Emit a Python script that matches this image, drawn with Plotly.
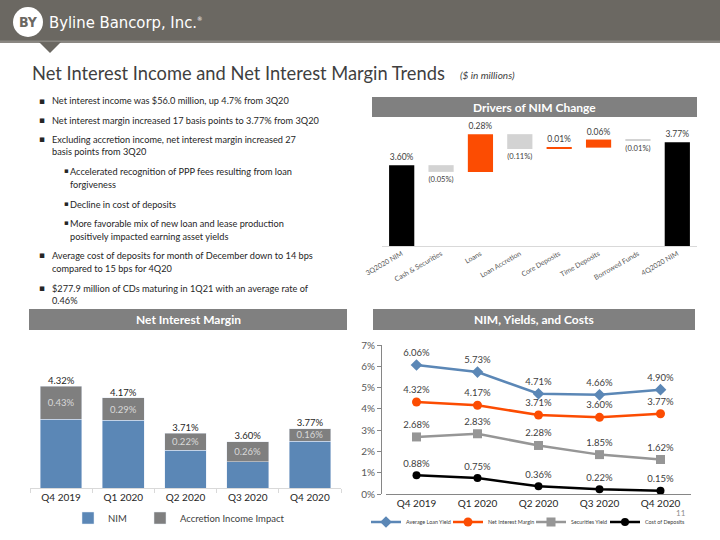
import plotly.graph_objects as go

W, H = 720, 540
def px(x): return x / W
def py(y): return 1 - y / H

FONT = "Lato, Open Sans, sans-serif"

# ---------------- data ----------------
wf_categories = ["3Q2020 NIM", "Cash & Securities", "Loans", "Loan Accretion",
                 "Core Deposits", "Time Deposits", "Borrowed Funds", "4Q2020 NIM"]
wf_values = [3.60, -0.05, 0.28, -0.11, 0.01, 0.06, -0.01, 3.77]
wf_measures = ["absolute", "relative", "relative", "relative",
               "relative", "relative", "relative", "absolute"]
wf_labels = ["3.60%", "(0.05%)", "0.28%", "(0.11%)", "0.01%", "0.06%", "(0.01%)", "3.77%"]

quarters = ["Q4 2019", "Q1 2020", "Q2 2020", "Q3 2020", "Q4 2020"]
nim_total = [4.32, 4.17, 3.71, 3.60, 3.77]
accretion_impact = [0.43, 0.29, 0.22, 0.26, 0.16]
nim_core = [round(t - a, 2) for t, a in zip(nim_total, accretion_impact)]

loan_yield = [6.06, 5.73, 4.71, 4.66, 4.90]
net_interest_margin = [4.32, 4.17, 3.71, 3.60, 3.77]
securities_yield = [2.68, 2.83, 2.28, 1.85, 1.62]
cost_of_deposits = [0.88, 0.75, 0.36, 0.22, 0.15]

bullets = [
    (0, "Net interest income was $56.0 million, up 4.7% from 3Q20", 100.7),
    (0, "Net interest margin increased 17 basis points to 3.77% from 3Q20", 120),
    (0, "Excluding accretion income, net interest margin increased 27", 139.3),
    (-1, "basis points from 3Q20", 152),
    (1, "Accelerated recognition of PPP fees resulting from loan", 171),
    (-2, "forgiveness", 184),
    (1, "Decline in cost of deposits", 204),
    (1, "More favorable mix of new loan and lease production", 223.3),
    (-2, "positively impacted earning asset yields", 236),
    (0, "Average cost of deposits for month of December down to 14 bps", 255),
    (-1, "compared to 15 bps for 4Q20", 268.3),
    (0, "$277.9 million of CDs maturing in 1Q21 with an average rate of", 288.3),
    (-1, "0.46%", 300.5),
]

fig = go.Figure()

# ---------------- waterfall ----------------
fig.add_trace(go.Waterfall(
    x=wf_categories, y=wf_values, measure=wf_measures,
    text=wf_labels, textposition="outside",
    textfont=dict(size=8.5, color="#404040", family=FONT),
    increasing=dict(marker=dict(color="#FC4C02")),
    decreasing=dict(marker=dict(color="#D3D3D3")),
    totals=dict(marker=dict(color="#000000")),
    connector=dict(visible=False),
    xaxis="x", yaxis="y", showlegend=False, hoverinfo="skip",
))

# ---------------- stacked bars ----------------
fig.add_trace(go.Bar(
    x=quarters, y=nim_core, name="NIM", marker_color="#5B87B6",
    xaxis="x2", yaxis="y2", legend="legend", hoverinfo="skip",
))
fig.add_trace(go.Bar(
    x=quarters, y=accretion_impact, name="Accretion Income Impact",
    marker_color="#7F7F7F",
    text=[f"{v:.2f}%" for v in accretion_impact], textposition="inside",
    insidetextanchor="middle", constraintext="none",
    textfont=dict(size=9.5, color="#D9D9D9", family=FONT),
    xaxis="x2", yaxis="y2", legend="legend2", hoverinfo="skip",
))
fig.add_trace(go.Scatter(
    x=quarters, y=nim_total, mode="text",
    text=[f"{v:.2f}%" for v in nim_total], textposition="top center",
    textfont=dict(size=9.5, color="#262626", family=FONT),
    xaxis="x2", yaxis="y2", showlegend=False, hoverinfo="skip",
))

# ---------------- lines ----------------
line_specs = [
    ("Average Loan Yield", loan_yield, "#5B87B6", "diamond", 9, "legend3"),
    ("Net Interest Margin", net_interest_margin, "#FC4C02", "circle", 9, "legend4"),
    ("Securities Yield", securities_yield, "#969696", "square", 9, "legend5"),
    ("Cost of Deposits", cost_of_deposits, "#000000", "circle", 8, "legend6"),
]
for name, vals, col, sym, ms, lg in line_specs:
    fig.add_trace(go.Scatter(
        x=quarters, y=vals, name=name, mode="lines+markers+text",
        line=dict(color=col, width=2.5), marker=dict(color=col, symbol=sym, size=ms),
        text=[f"{v:.2f}%" for v in vals], textposition="top center",
        textfont=dict(size=9.5, color="#404040", family=FONT),
        xaxis="x3", yaxis="y3", legend=lg, hoverinfo="skip",
    ))

# ---------------- shapes ----------------
shapes = []
shapes.append(dict(type="rect", xref="paper", yref="paper", x0=0, x1=1, y0=py(42), y1=1,
                   fillcolor="#6B6862", line=dict(width=0), layer="below"))
shapes.append(dict(type="rect", xref="paper", yref="paper", x0=0, x1=1, y0=py(43), y1=py(40.5),
                   fillcolor="#8A8782", line=dict(width=0), layer="below"))
shapes.append(dict(type="path", xref="paper", yref="paper",
                   path=f"M {px(39)},{py(42)} L {px(61)},{py(42)} L {px(50)},{py(53)} Z",
                   fillcolor="#6B6862", line=dict(width=0)))
shapes.append(dict(type="circle", xref="paper", yref="paper",
                   x0=px(13), x1=px(43), y0=py(37), y1=py(7),
                   fillcolor="#FFFFFF", line=dict(width=0)))
for (x0, x1, y0, y1) in [(372, 697, 97, 117), (29, 347, 309, 330), (373, 695, 309, 330)]:
    shapes.append(dict(type="rect", xref="paper", yref="paper",
                       x0=px(x0), x1=px(x1), y0=py(y1), y1=py(y0),
                       fillcolor="#808080", line=dict(width=0), layer="below"))

# ---------------- annotations ----------------
ann = []
def add_text(text, x, y, size, color="#262626", family=FONT, xanchor="left"):
    ann.append(dict(text=text, x=px(x), y=py(y), xref="paper", yref="paper",
                    xanchor=xanchor, yanchor="middle", showarrow=False,
                    font=dict(size=size, color=color, family=family)))

add_text("<b>BY</b>", 28, 22.5, 14, "#6B6862", "DejaVu Sans Condensed, " + FONT, "center")
add_text("Byline Bancorp, Inc.<sup><span style='font-size:6px'>®</span></sup>", 47, 22, 16.5, "#FFFFFF",
         "Liberation Sans Narrow, DejaVu Sans Condensed, " + FONT)
add_text("Net Interest Income and Net Interest Margin Trends", 30, 73, 18.3, "#3F3F3F")
add_text("<i>($ in millions)</i>", 458, 74.5, 10, "#404040")

for lvl, txt, yy in bullets:
    if lvl == 0:
        add_text("▪", 37, yy, 9, "#262626", "DejaVu Sans")
    if lvl == 1:
        add_text("▪", 62, yy, 7, "#262626", "DejaVu Sans")
    xt = 50 if lvl in (0, -1) else 68
    add_text(txt, xt, yy, 9.2, "#262626")

for txt, xc, yc in [("Drivers of NIM Change", 534, 107), ("Net Interest Margin", 188, 319.5),
                    ("NIM, Yields, and Costs", 534, 319.5)]:
    add_text(f"<b>{txt}</b>", xc, yc, 12, "#FFFFFF", FONT, "center")

add_text("11", 688, 513, 8, "#8C8C8C", FONT, "right")

def small_legend(x, y, size):
    return dict(orientation="h", x=px(x), xanchor="left", y=py(y), yanchor="middle",
                font=dict(size=size, color="#404040"), bgcolor="rgba(0,0,0,0)",
                itemwidth=30)

fig.update_layout(
    width=W, height=H, margin=dict(l=0, r=0, t=0, b=0, autoexpand=False),
    paper_bgcolor="#FFFFFF", plot_bgcolor="rgba(0,0,0,0)",
    font=dict(family=FONT, color="#404040"),
    shapes=shapes, annotations=ann,
    barmode="stack", bargap=0.33, waterfallgap=0.36,
    xaxis=dict(domain=[px(382), px(697)], anchor="y", tickangle=-30, automargin=False,
               tickfont=dict(size=7, color="#595959"), showline=True, linecolor="#D9D9D9",
               ticks="", showgrid=False),
    yaxis=dict(domain=[py(246), py(118)], range=[3.0, 3.95], visible=False),
    xaxis2=dict(domain=[px(30), px(341)], anchor="y2", range=[-0.5, 4.5], automargin=False,
                showline=True, linecolor="#D9D9D9", ticks="outside", tickson="boundaries",
                ticklen=4, tickcolor="#D9D9D9", tickfont=dict(size=10, color="#262626"),
                showgrid=False),
    yaxis2=dict(domain=[py(488), py(334)], range=[3.0, 5.0], visible=False),
    xaxis3=dict(domain=[px(386), px(691)], anchor="y3", range=[-0.5, 4.5], automargin=False,
                showline=True, linecolor="#868686", ticks="", showgrid=False,
                tickfont=dict(size=10, color="#262626")),
    yaxis3=dict(domain=[py(494), py(345)], range=[0, 7], dtick=1, ticksuffix="%",
                showline=True, linecolor="#868686", ticks="outside", ticklen=4,
                tickcolor="#868686", showgrid=False, zeroline=False, automargin=False,
                tickfont=dict(size=10, color="#595959")),
    legend=small_legend(68, 518, 9.5),
    legend2=small_legend(140, 518, 9.5),
    legend3=small_legend(366, 522, 5.4),
    legend4=small_legend(448, 522, 5.4),
    legend5=small_legend(531, 522, 5.4),
    legend6=small_legend(605, 522, 5.4),
)

fig.write_html("out.html")
